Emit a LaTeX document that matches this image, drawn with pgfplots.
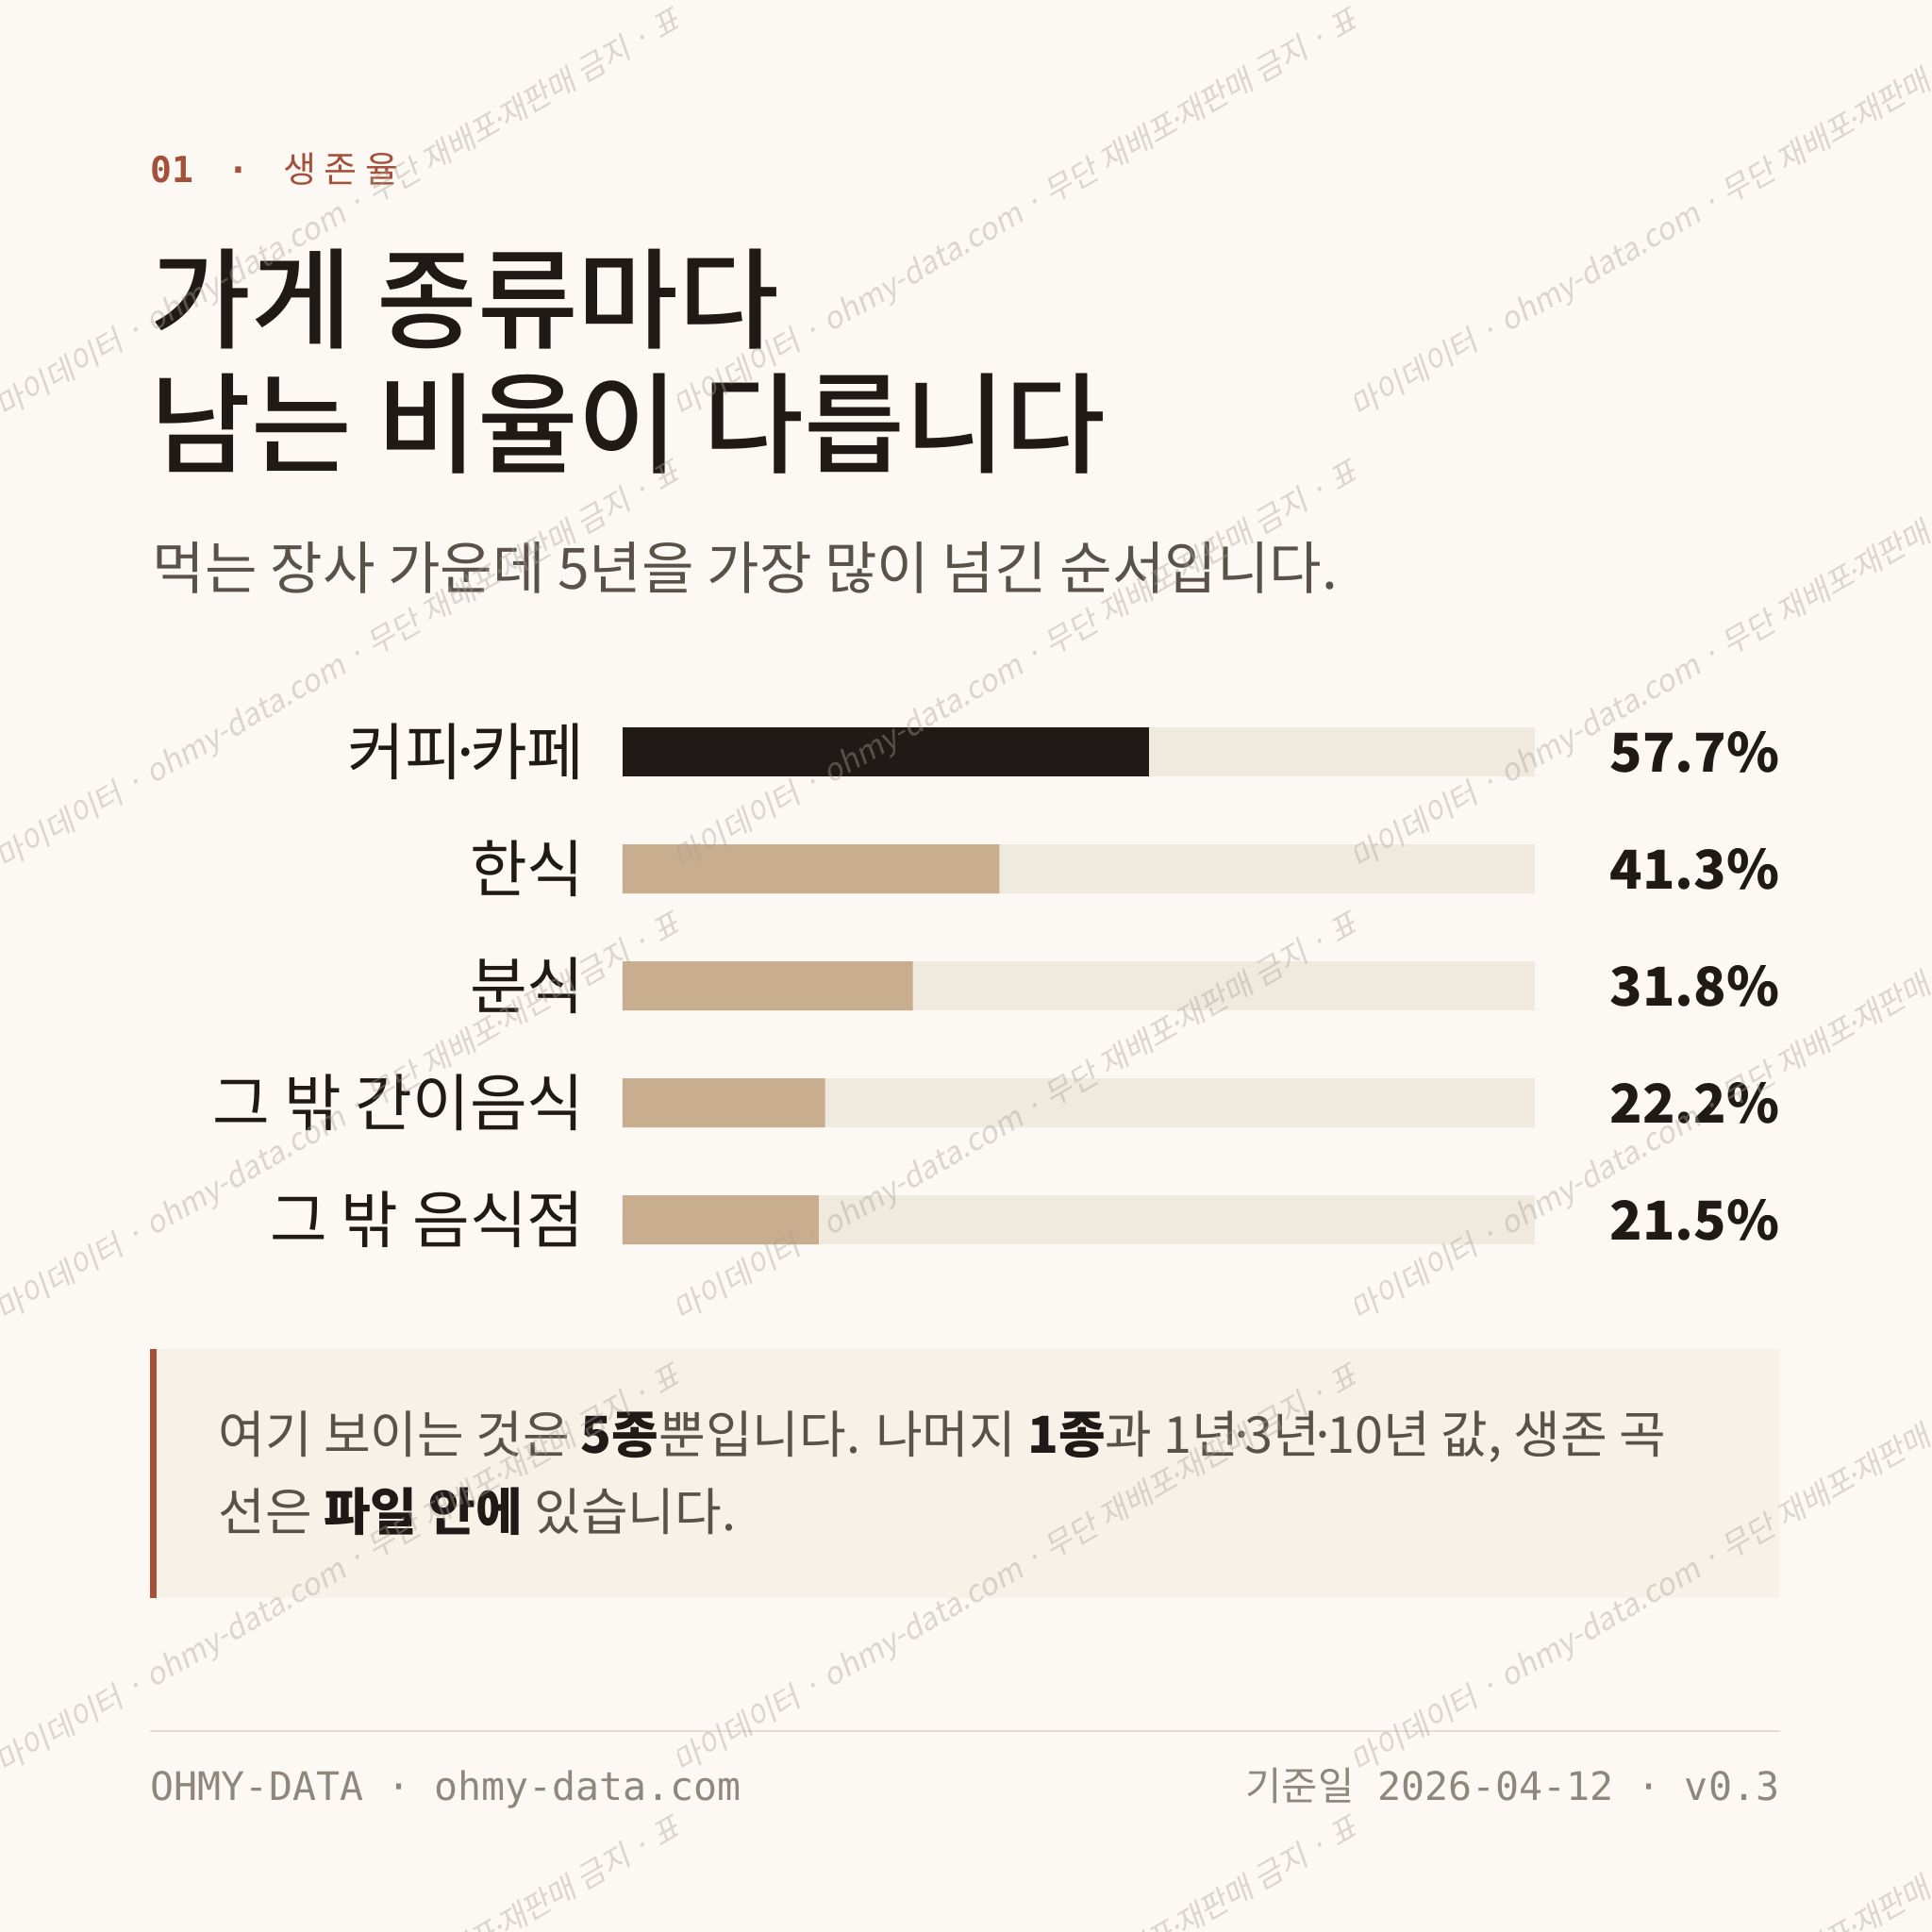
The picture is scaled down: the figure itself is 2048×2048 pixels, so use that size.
\documentclass[border=0pt]{standalone}
\usepackage{pgfplots}
\pgfplotsset{compat=1.18}
\usepackage{fontspec}
\setmainfont{Noto Sans CJK KR}
\newfontfamily\kr{Noto Sans CJK KR}
\newfontfamily\krm{Noto Sans CJK KR Medium}
\newfontfamily\mono{DejaVu Sans Mono}
\newfontfamily\wm[FakeSlant=0.18]{Noto Sans CJK KR}
\newcommand\md{\kern-0.22em·\kern-0.22em}

\definecolor{bg}{HTML}{FCF9F4}
\definecolor{ink}{HTML}{1F1A17}
\definecolor{sub}{HTML}{5A524A}
\definecolor{rust}{HTML}{A4503A}
\definecolor{tan}{HTML}{C8AE8E}
\definecolor{track}{HTML}{F0E9DE}
\definecolor{notebg}{HTML}{F8F1E8}
\definecolor{foot}{HTML}{8F877D}
\definecolor{footline}{HTML}{E2DDD0}
\definecolor{wmc}{HTML}{A9A299}

\begin{document}
\begin{tikzpicture}[x=0.25pt, y=-0.25pt]
\useasboundingbox (0,0) rectangle (2048,2048);
\clip (0,0) rectangle (2048,2048);
\fill[bg] (0,0) rectangle (2048,2048);

% kicker and headings
\node[anchor=base west, inner sep=0, text=rust] at (159,193)
  {\mono\bfseries\fontsize{9.5pt}{10pt}\selectfont 01\hspace{9pt}·\hspace{9pt}{\kr\mdseries\addfontfeatures{LetterSpace=22}생존율}};
\node[anchor=base west, inner sep=0, text=ink] at (159,360)
  {\krm\fontsize{29pt}{30pt}\selectfont 가게 종류마다};
\node[anchor=base west, inner sep=0, text=ink] at (159,492)
  {\krm\fontsize{29pt}{30pt}\selectfont 남는 비율이 다릅니다};
\node[anchor=base west, inner sep=0, text=sub] at (161,624)
  {\kr\fontsize{15.1pt}{16pt}\selectfont 먹는 장사 가운데 5년을 가장 많이 넘긴 순서입니다.};

% bars
\begin{axis}[
    at={(165pt,-183.75pt)}, anchor=north west,
    x=2.4175pt, y=31pt, y dir=reverse,
    xmin=0, xmax=100, ymin=-0.5, ymax=4.5,
    hide axis, clip=false,
]
\addplot[xbar, bar width=13pt, bar shift=0pt, fill=track, draw=none]
  coordinates {(100,0) (100,1) (100,2) (100,3) (100,4)};
\addplot[xbar, bar width=13pt, bar shift=0pt, fill=tan, draw=none]
  coordinates {(41.3,1) (31.8,2) (22.2,3) (21.5,4)};
\addplot[xbar, bar width=13pt, bar shift=0pt, fill=ink, draw=none]
  coordinates {(57.7,0)};
% category names
\addplot[only marks, mark=*, mark size=0.01pt,
    mark options={draw opacity=0, fill opacity=0},
    point meta=explicit symbolic, nodes near coords,
    nodes near coords style={anchor=east, inner sep=0, text=ink,
      opacity=1, text opacity=1, fill opacity=1,
      font=\kr\fontsize{16.5pt}{17pt}\selectfont}]
  coordinates {(-4.1,0)[커피\md 카페] (-4.1,1)[한식] (-4.1,2)[분식]
               (-4.1,3)[그 밖 간이음식] (-4.1,4)[그 밖 음식점]};
% values
\addplot[only marks, mark=*, mark size=0.01pt,
    mark options={draw opacity=0, fill opacity=0},
    point meta=explicit symbolic, nodes near coords,
    nodes near coords style={anchor=east, inner sep=0, text=ink,
      opacity=1, text opacity=1, fill opacity=1,
      font=\kr\bfseries\fontsize{14.2pt}{15pt}\selectfont}]
  coordinates {(126.9,0)[57.7\%] (126.9,1)[41.3\%] (126.9,2)[31.8\%]
               (126.9,3)[22.2\%] (126.9,4)[21.5\%]};
\end{axis}

% note box
\fill[notebg] (159,1430) rectangle (1887,1694);
\fill[rust] (159,1430) rectangle (166,1694);
\node[anchor=base west, inner sep=0, text=sub] at (231,1540)
  {\kr\fontsize{13.5pt}{14pt}\selectfont 여기 보이는 것은 {\bfseries\color{ink}5종}뿐입니다. 나머지 {\bfseries\color{ink}1종}과 1년\md 3년\md 10년 값, 생존 곡};
\node[anchor=base west, inner sep=0, text=sub] at (231,1622)
  {\kr\fontsize{13.5pt}{14pt}\selectfont 선은 {\bfseries\color{ink}파일 안에} 있습니다.};

% footer
\draw[footline, line width=0.6pt] (159,1835) -- (1887,1835);
\node[anchor=base west, inner sep=0, text=foot] at (159,1908)
  {\mono\fontsize{10.4pt}{11pt}\selectfont OHMY-DATA · ohmy-data.com};
\node[anchor=base east, inner sep=0, text=foot] at (1887,1908)
  {{\kr\fontsize{10.4pt}{11pt}\selectfont 기준일}\mono\fontsize{10.4pt}{11pt}\selectfont{} 2026-04-12 · v0.3};

% watermark
\foreach \j in {0,1,2} {
  \foreach \k in {0,...,4} {
    \begin{scope}
      \clip (\j*718,-100) rectangle ++(718,2300);
      \node[rotate=30, anchor=base west, inner sep=0, text=wmc, text opacity=0.4]
        at (\j*718+4, 444+\k*479)
        {\wm\fontsize{8.1pt}{9pt}\selectfont 마이데이터 · ohmy-data.com · 무단 재배포\md 재판매 금지 · 표본 · 마이데이터};
    \end{scope}
  }
}
\end{tikzpicture}
\end{document}
